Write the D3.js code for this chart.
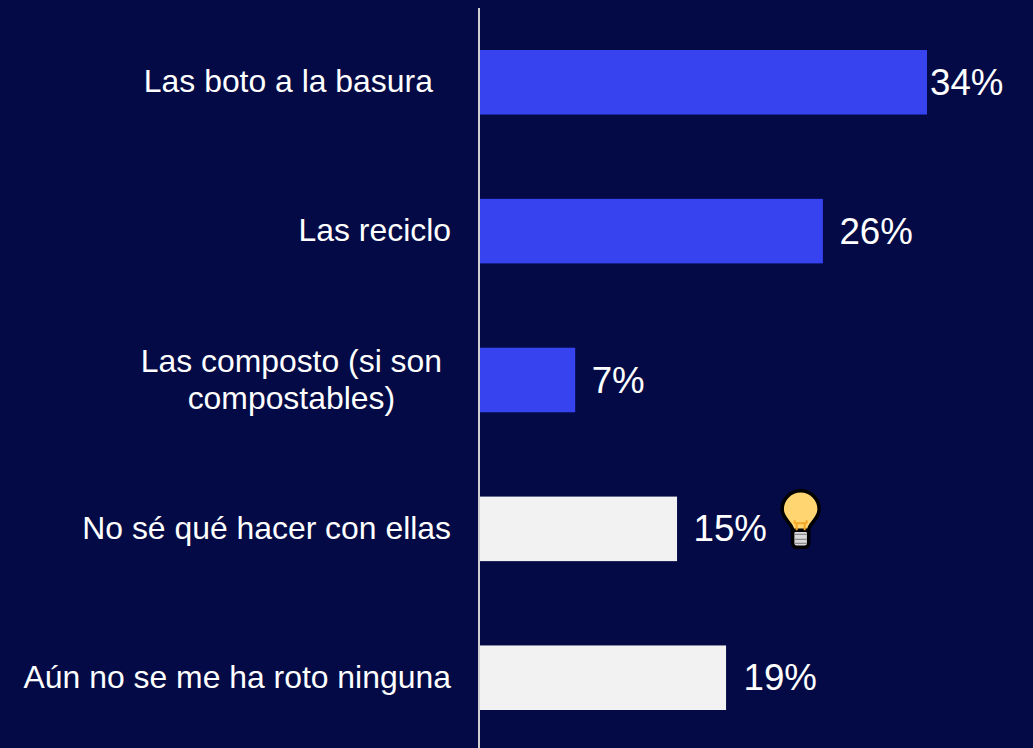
<!DOCTYPE html><html><head><meta charset="utf-8"><script src="https://cdn.jsdelivr.net/npm/d3@7"></script>
<style>html,body{margin:0;padding:0;background:#030a45;overflow:hidden}svg{display:block}</style></head><body><svg id="c" width="1033" height="748"></svg>
<script>
const categories=["Las boto a la basura","Las reciclo","Las composto (si son compostables)","No sé qué hacer con ellas","Aún no se me ha roto ninguna"];
const values=[34,26.1,7.3,15.03,18.75];
const valueLabels=["34%","26%","7%","15%","19%"];
const labelLines=[["Las boto a la basura"],["Las reciclo"],["Las composto (si son","compostables)"],["No sé qué hacer con ellas"],["Aún no se me ha roto ninguna"]];
const barColors=["#3643ef","#3643ef","#3643ef","#f2f2f2","#f2f2f2"];
const svg=d3.select("#c");
const font="Liberation Sans, Arial, sans-serif";
const y=d3.scaleBand().domain(categories).range([50,710]).paddingInner(0.5664).paddingOuter(0);
const x=d3.scaleLinear().domain([0,34]).range([479,927]);
svg.selectAll("rect.bar").data(categories).join("rect").attr("class","bar")
 .attr("x",x(0)).attr("y",d=>y(d)).attr("height",y.bandwidth())
 .attr("width",(d,i)=>x(values[i])-x(0)).attr("fill",(d,i)=>barColors[i]);
svg.append("line").attr("x1",x(0)).attr("x2",x(0)).attr("y1",8).attr("y2",748).attr("stroke","#d0d0d0").attr("stroke-width",2);
const rightEdge=[433,451,442,451,451];
const lab=svg.selectAll("text.cat").data(categories).join("text").attr("class","cat")
 .attr("font-family",font).attr("font-size",31.9).attr("fill","#fff").attr("text-anchor","middle");
lab.each(function(d,i){
 const lines=labelLines[i],t=d3.select(this),cy=y(d)+y.bandwidth()/2;
 lines.forEach((l,j)=>t.append("tspan").attr("x",0).attr("y",cy+10+(j-(lines.length-1)/2)*37).text(l));
 const b=this.getBBox();
 t.attr("transform",`translate(${rightEdge[i]-b.width/2},0)`);
});
svg.selectAll("text.val").data(categories).join("text").attr("class","val")
 .attr("font-family",font).attr("font-size",36.7).attr("fill","#fff")
 .attr("x",(d,i)=>x(values[i])+(i===0?3:i===4?17.5:16.5)).attr("y",d=>y(d)+y.bandwidth()/2+12.5)
 .text((d,i)=>valueLabels[i]);
// bulb icon
const g=svg.append("g").attr("transform",`translate(${x(15)+124},${y(categories[3])+y.bandwidth()/2-18.5})`);
g.append("rect").attr("x",-8).attr("y",19).attr("width",16).attr("height",18).attr("rx",4).attr("fill","#d9d9d9").attr("stroke","#000").attr("stroke-width",3.5);
[24,29,33].forEach(s=>g.append("line").attr("x1",-6).attr("x2",6).attr("y1",s).attr("y2",s).attr("stroke","#8c8c8c").attr("stroke-width",1.3));
g.append("path").attr("d","M-8,20 C-8,13 -18.5,9 -18.5,-1 A18.5,18.5 0 0 1 18.5,-1 C18.5,9 8,13 8,20 Z").attr("fill","#ffd571").attr("stroke","#000").attr("stroke-width",3.5);
g.append("path").attr("d","M-4,20 V13 M4,20 V13 M-6,13 H6 M-6,13 V10 M6,13 V10").attr("fill","none").attr("stroke","#f5a623").attr("stroke-width",2);
</script></body></html>
